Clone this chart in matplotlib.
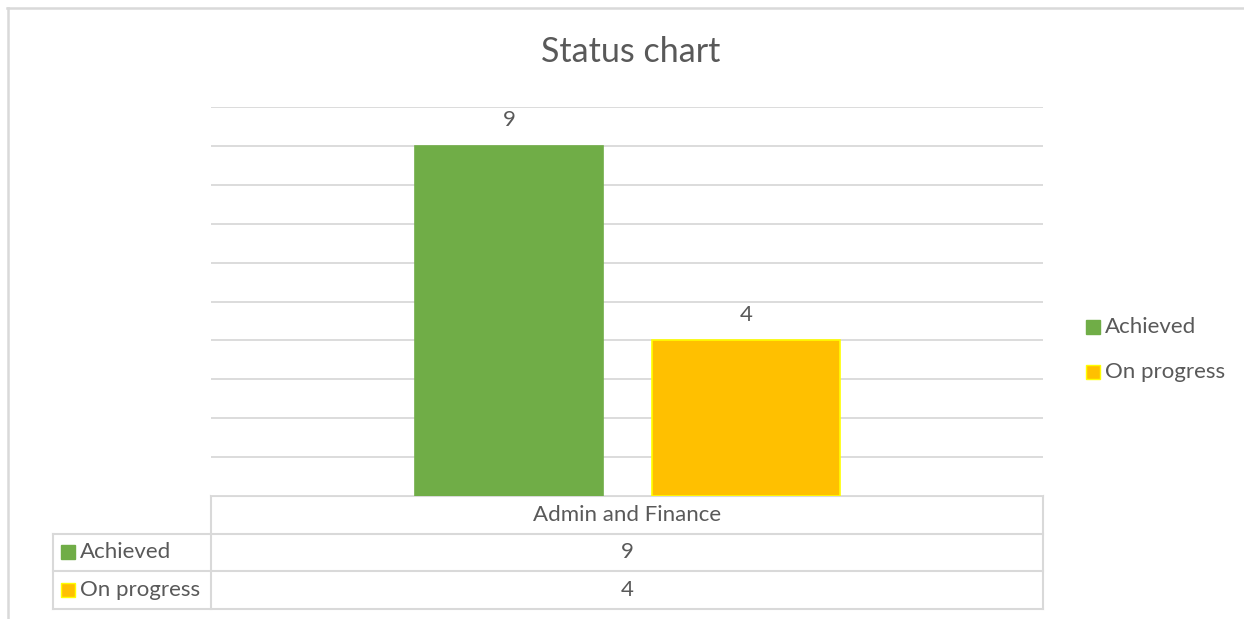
import matplotlib.pyplot as plt
from matplotlib.patches import Rectangle

plt.rcParams['font.family'] = ['Lato', 'DejaVu Sans']

categories = ['Admin and Finance']
series_names = ['Achieved', 'On progress']
achieved = [9]
on_progress = [4]
colors = ['#70AD47', '#FFC000']
edges = ['#70AD47', '#FFFF00']

W, H = 1244, 619
txt = '#595959'
grid = '#d9d9d9'
fs = 16

fig = plt.figure(figsize=(W / 100, H / 100), dpi=100)

# overlay in pixel coords for frame, table and legend
ov = fig.add_axes([0, 0, 1, 1])
ov.set_xlim(0, W)
ov.set_ylim(H, 0)
ov.axis('off')

# main plot area
ax = fig.add_axes([211 / W, (H - 496) / H, 832 / W, (496 - 107) / H])
ax.set_xlim(-0.5, 0.5)
ax.set_ylim(0, 10)
ax.set_yticks(range(0, 11))
ax.set_xticks([])
ax.tick_params(left=False, labelleft=False)
ax.grid(axis='y', color=grid, lw=1.3)
ax.set_axisbelow(True)
for s in ax.spines.values():
    s.set_visible(False)

vals = [achieved, on_progress]
offs = [-0.142, 0.143]
for i in range(2):
    b = ax.bar([k + offs[i] for k in range(len(categories))], vals[i], width=0.226,
               color=colors[i], edgecolor=edges[i], lw=1.2)
    for r, v in zip(b, vals[i]):
        ax.text(r.get_x() + r.get_width() / 2, v + 0.4, str(v), ha='center', va='bottom',
                fontsize=fs, color=txt)

fig.text(631 / W, 1 - 52 / H, 'Status chart', ha='center', va='center', fontsize=24.5, color=txt)

# outer frame (partial)
ov.plot([7, W], [8, 8], color=grid, lw=1.8)
ov.plot([8, 8], [8, H], color=grid, lw=1.8)

# data table
lc = dict(color=grid, lw=1.5)
ov.plot([211, 1043], [496, 496], **lc)
for y in [534, 571, 609]:
    ov.plot([53, 1043], [y, y], **lc)
ov.plot([53, 53], [534, 609], **lc)
ov.plot([211, 211], [496, 609], **lc)
ov.plot([1043, 1043], [496, 609], **lc)

ov.text(627, 515, categories[0], ha='center', va='center', fontsize=fs, color=txt)
row_y = [552, 590]
for i in range(2):
    ov.add_patch(Rectangle((61, row_y[i] - 7), 14, 14, facecolor=colors[i], edgecolor=edges[i], lw=1))
    ov.text(80, row_y[i], series_names[i], ha='left', va='center', fontsize=fs, color=txt)
    ov.text(627, row_y[i], str(vals[i][0]), ha='center', va='center', fontsize=fs, color=txt)

# legend
leg_y = [327, 372]
for i in range(2):
    ov.add_patch(Rectangle((1086, leg_y[i] - 7), 14, 14, facecolor=colors[i], edgecolor=edges[i], lw=1))
    ov.text(1105, leg_y[i], series_names[i], ha='left', va='center', fontsize=fs, color=txt)

fig.savefig('out.png', dpi=100)
